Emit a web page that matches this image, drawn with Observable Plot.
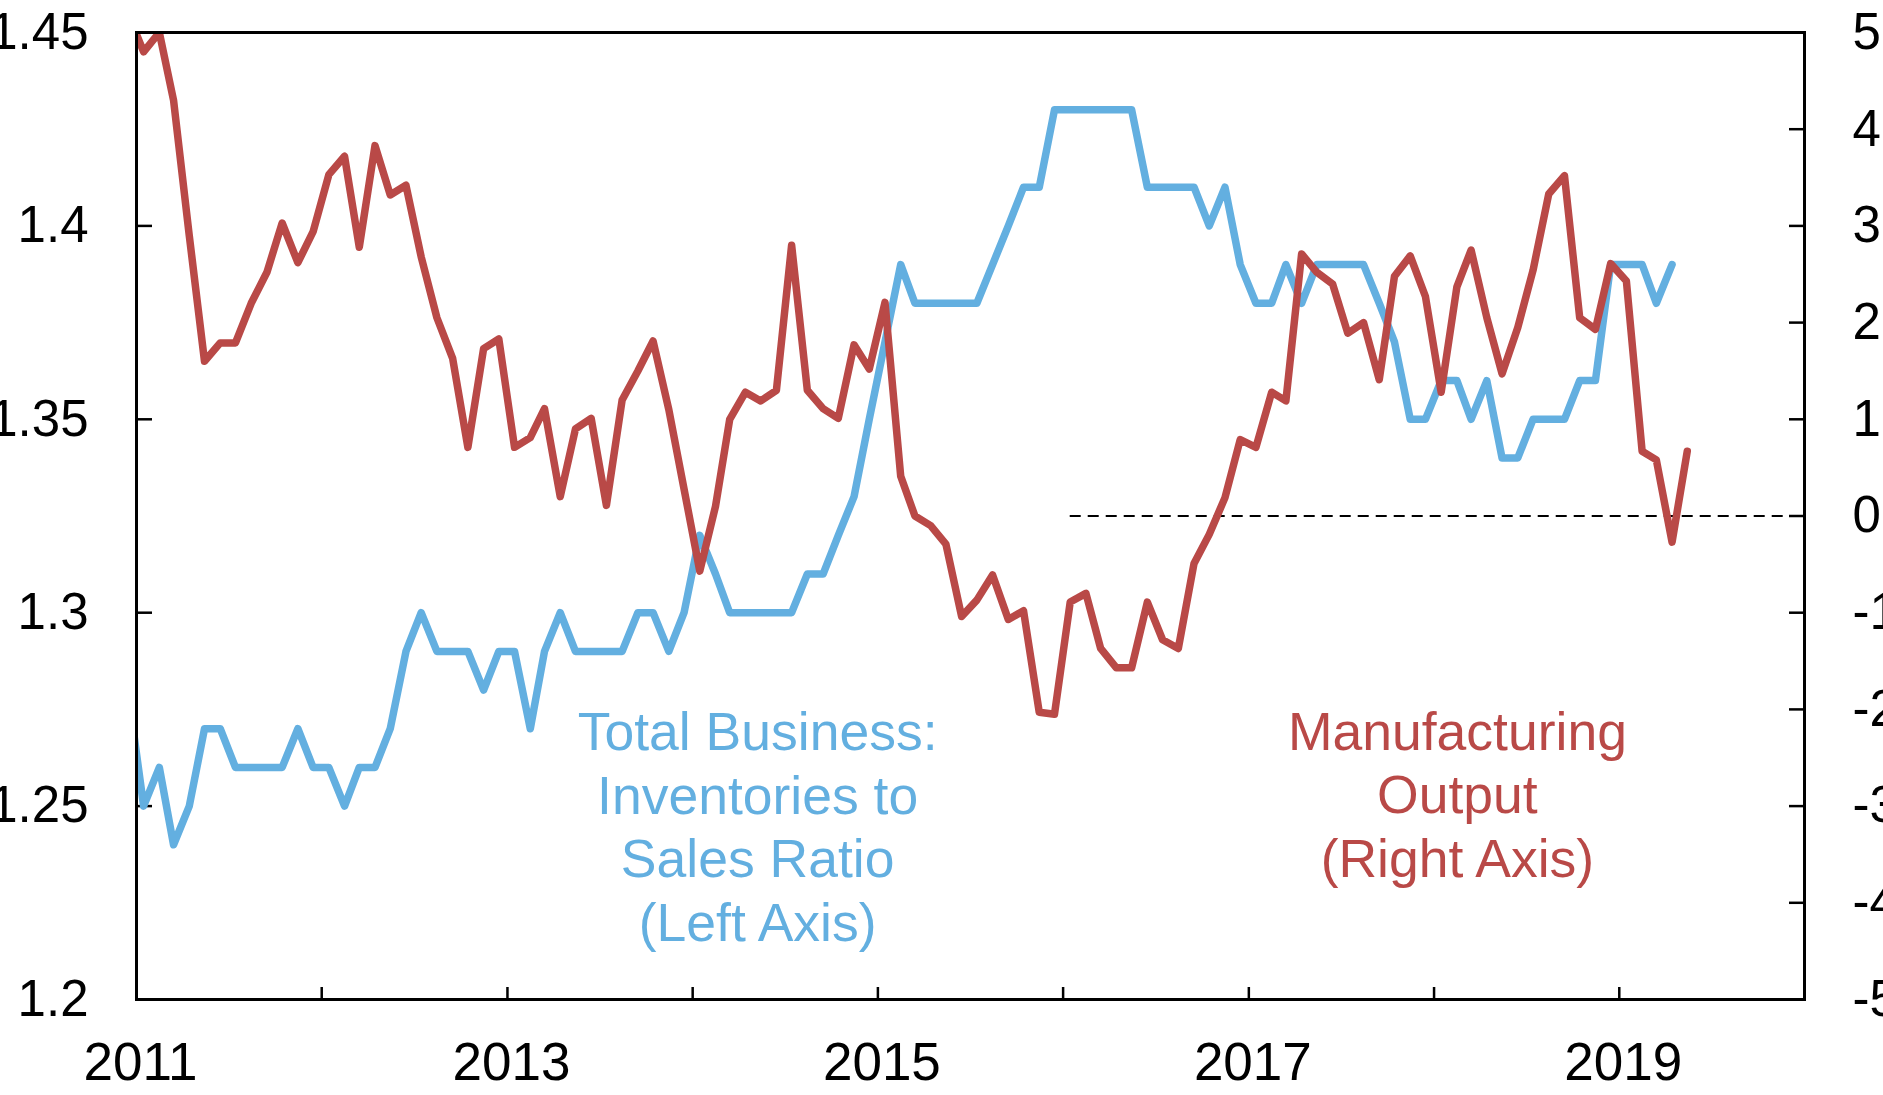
<!DOCTYPE html>
<html>
<head>
<meta charset="utf-8">
<script src="https://cdn.jsdelivr.net/npm/d3@7"></script>
<script src="https://cdn.jsdelivr.net/npm/@observablehq/plot@0.6"></script>
<style>
  html, body { margin: 0; padding: 0; background: #fff; }
  #chart svg { display: block; }
</style>
</head>
<body>
<div id="chart"></div>
<script>
// ---- Data (monthly, first value = Dec 2010) ----
const firstMonth = "2010-12";

// Total Business: Inventories to Sales Ratio (left axis), Dec 2010 - Apr 2019
const ratioValues = [
  1.28,
  1.25, 1.26, 1.24, 1.25, 1.27, 1.27, 1.26, 1.26, 1.26, 1.26, 1.27, 1.26,
  1.26, 1.25, 1.26, 1.26, 1.27, 1.29, 1.30, 1.29, 1.29, 1.29, 1.28, 1.29,
  1.29, 1.27, 1.29, 1.30, 1.29, 1.29, 1.29, 1.29, 1.30, 1.30, 1.29, 1.30,
  1.32, 1.31, 1.30, 1.30, 1.30, 1.30, 1.30, 1.31, 1.31, 1.32, 1.33, 1.35,
  1.37, 1.39, 1.38, 1.38, 1.38, 1.38, 1.38, 1.39, 1.40, 1.41, 1.41, 1.43,
  1.43, 1.43, 1.43, 1.43, 1.43, 1.41, 1.41, 1.41, 1.41, 1.40, 1.41, 1.39,
  1.38, 1.38, 1.39, 1.38, 1.39, 1.39, 1.39, 1.39, 1.38, 1.37, 1.35, 1.35,
  1.36, 1.36, 1.35, 1.36, 1.34, 1.34, 1.35, 1.35, 1.35, 1.36, 1.36, 1.39,
  1.39, 1.39, 1.38, 1.39
];

// Manufacturing Output, % y/y (right axis), Dec 2010 - May 2019
const outputValues = [
  5.2,
  4.80, 5.00, 4.30, 2.90, 1.60, 1.79, 1.79, 2.20, 2.52, 3.03, 2.62, 2.94,
  3.53, 3.72, 2.78, 3.83, 3.32, 3.42, 2.68, 2.05, 1.63, 0.71, 1.73, 1.83,
  0.71, 0.81, 1.11, 0.20, 0.90, 1.01, 0.11, 1.20, 1.50, 1.81, 1.10, 0.28,
  -0.57, 0.10, 1.00, 1.28, 1.19, 1.30, 2.80, 1.30, 1.11, 1.01, 1.77, 1.52,
  2.21, 0.41, 0.00, -0.10, -0.29, -1.04, -0.87, -0.61, -1.07, -0.98, -2.03, -2.05,
  -0.89, -0.80, -1.37, -1.57, -1.57, -0.89, -1.28, -1.37, -0.49, -0.19, 0.19, 0.79,
  0.71, 1.28, 1.19, 2.71, 2.52, 2.40, 1.89, 2.00, 1.41, 2.48, 2.69, 2.27,
  1.28, 2.37, 2.75, 2.05, 1.47, 1.95, 2.54, 3.33, 3.52, 2.05, 1.93, 2.61,
  2.43, 0.67, 0.58, -0.27, 0.67
];

const leftTicks = [1.2, 1.25, 1.3, 1.35, 1.4, 1.45];
const rightTicks = [-5, -4, -3, -2, -1, 0, 1, 2, 3, 4, 5];
const yearTicks = [2011, 2012, 2013, 2014, 2015, 2016, 2017, 2018, 2019, 2020];
const yearLabels = [2011, 2013, 2015, 2017, 2019];
const xDomain = ["2011-01-01", "2020-01-01"];
const zeroLine = { from: "2016-01-15", to: "2020-01-01", value: 0 };

const blueLabel = { date: "2014-05-09", value: 1.2762, text: "Total Business:\nInventories to\nSales Ratio\n(Left Axis)" };
const redLabel = { date: "2018-02-16", value: -1.95, text: "Manufacturing\nOutput\n(Right Axis)" };

const BLUE = "#63AFE0";
const RED = "#B94947";
const FONT = "'Liberation Sans', Arial, Helvetica, sans-serif";

// ---- Build ----
const parseMonth = d3.utcParse("%Y-%m");
const start = parseMonth(firstMonth);
const dateAt = i => d3.utcDay.offset(d3.utcMonth.offset(start, i), 14);
const ratioData = ratioValues.map((v, i) => ({ date: dateAt(i), value: v }));
const outputData = outputValues.map((v, i) => ({ date: dateAt(i), value: v }));

// map right-axis values into the left-axis domain
const toLeft = d3.scaleLinear([-5, 5], [1.2, 1.45]);
const yearDate = y => new Date(Date.UTC(y, 0, 1));
const iso = s => new Date(s + "T00:00:00Z");

const chart = Plot.plot({
  width: 1883,
  height: 1095,
  marginLeft: 136,
  marginRight: 79,
  marginTop: 32,
  marginBottom: 96,
  style: { fontFamily: FONT, background: "#fff", color: "#000" },
  x: { type: "utc", domain: xDomain.map(iso) },
  y: { domain: [1.2, 1.45] },
  marks: [
    // inward ticks
    Plot.axisY({ ticks: leftTicks, tickSize: 16, dx: 16, tickFormat: () => "", label: null, strokeWidth: 2.5 }),
    Plot.axisY({ anchor: "right", ticks: rightTicks.map(toLeft), tickSize: 16, dx: -16, tickFormat: () => "", label: null, strokeWidth: 2.5 }),
    Plot.axisX({ ticks: yearTicks.map(yearDate), tickSize: 12, dy: -12, tickFormat: () => "", label: null, strokeWidth: 2.5 }),
    // tick labels
    Plot.axisY({ ticks: leftTicks, tickSize: 0, tickPadding: 48, tickFormat: d => String(+d.toFixed(2)), label: null, fontSize: 51, fill: "#000" }),
    Plot.axisY({ anchor: "right", ticks: rightTicks.map(toLeft), tickSize: 0, tickPadding: 48,
      tickFormat: d => String(Math.round(toLeft.invert(d))), label: null, fontSize: 51, fill: "#000" }),
    Plot.axisX({ ticks: yearLabels.map(yearDate), tickSize: 0, tickPadding: 43, dx: 4,
      tickFormat: d3.utcFormat("%Y"), label: null, fontSize: 53, fill: "#000" }),
    // zero reference (right axis)
    Plot.ruleY([zeroLine], { y: d => toLeft(d.value), x1: d => iso(d.from), x2: d => iso(d.to),
      stroke: "#000", strokeWidth: 2, strokeDasharray: "11,7" }),
    // series
    Plot.line(ratioData, { x: "date", y: "value", stroke: BLUE, strokeWidth: 7.5, strokeLinejoin: "round", clip: true }),
    Plot.line(outputData, { x: "date", y: d => toLeft(d.value), stroke: RED, strokeWidth: 7.5, strokeLinejoin: "round", clip: true }),
    // annotations
    Plot.text([blueLabel], { x: d => iso(d.date), y: "value", text: "text", fill: BLUE, fontSize: 53.5,
      lineAnchor: "top", lineHeight: 1.19, textAnchor: "middle" }),
    Plot.text([redLabel], { x: d => iso(d.date), y: d => toLeft(d.value), text: "text", fill: RED, fontSize: 53.5,
      lineAnchor: "top", lineHeight: 1.19, textAnchor: "middle" }),
    Plot.frame({ stroke: "#000", strokeWidth: 3 })
  ]
});

document.getElementById("chart").appendChild(chart);
</script>
</body>
</html>
